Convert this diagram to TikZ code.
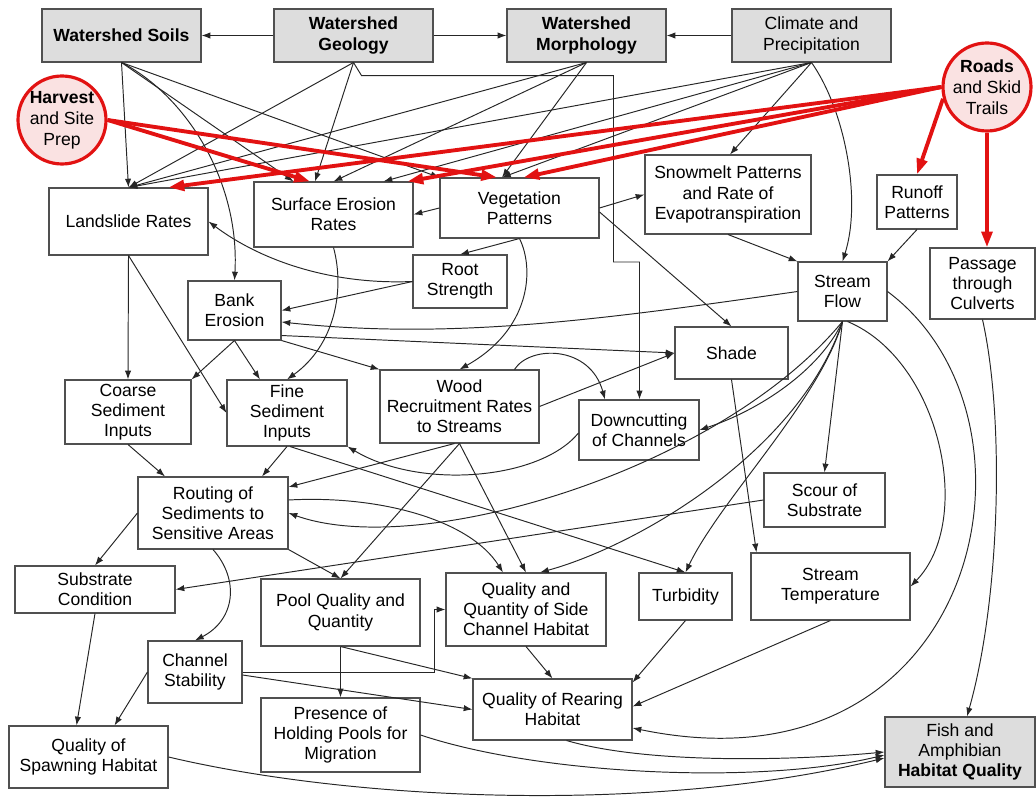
\documentclass[tikz,border=0pt]{standalone}
\usepackage{fontspec}
\setmainfont{Liberation Sans}
\usetikzlibrary{arrows.meta,calc}
\definecolor{roadred}{RGB}{226,18,18}
\definecolor{pinkfill}{RGB}{250,226,226}
\definecolor{topgray}{RGB}{221,221,221}
\definecolor{edgegray}{RGB}{80,80,80}

\begin{document}
\begin{tikzpicture}[x=0.02cm,y=-0.02cm] % one unit is one pixel of the sketch
\tikzset{sz/.style 2 args={minimum width=#1*0.02cm, minimum height=#2*0.02cm}}
\tikzset{box/.style={draw=edgegray, line width=0.6pt, fill=white, align=center, inner sep=1pt, font=\fontsize{10}{11.5}\selectfont}}
\tikzset{topbox/.style={box, fill=topgray, font=\fontsize{10}{11.5}\selectfont\bfseries}}
\tikzset{source/.style={circle, draw=roadred, line width=1.8pt, fill=pinkfill, align=center, inner sep=0pt, minimum size=88*0.02cm, font=\fontsize{10}{12}\selectfont}}
\tikzset{arr/.style={draw=black!85, line width=0.55pt, -{Latex[length=5pt,width=3.6pt]}}}
\tikzset{redarr/.style={draw=roadred, line width=2.2pt, -{Triangle[length=9pt,width=6pt]}}}
\useasboundingbox (0,0) rectangle (1036,803);

% drivers
\node[topbox, sz={159}{53}] (soils) at (121.5,35.5) {Watershed Soils};
\node[topbox, sz={159}{53}] (geology) at (353.5,35.5) {Watershed\\Geology};
\node[topbox, sz={159}{53}] (morph) at (586.5,35.5) {Watershed\\Morphology};
\node[box, fill=topgray, sz={159}{53}] (climate) at (811.5,35.5) {Climate and\\Precipitation};
\node[source] (harvest) at (62,120) {\textbf{Harvest}\\and Site\\Prep};
\node[source] (roads) at (987,87) {\textbf{Roads}\\and Skid\\Trails};

% processes
\node[box, sz={159}{67}] (land) at (128.5,221.5) {Landslide Rates};
\node[box, sz={159}{65}] (surf) at (333.5,214.5) {Surface Erosion\\Rates};
\node[box, sz={159}{60}] (veg) at (519.5,208) {Vegetation\\Patterns};
\node[box, sz={166}{79}] (snow) at (728,194.5) {Snowmelt Patterns\\and Rate of\\Evapotranspiration};
\node[box, sz={80}{54}] (runoff) at (917,202) {Runoff\\Patterns};
\node[box, sz={94}{53}] (root) at (460,281.5) {Root\\Strength};
\node[box, sz={93}{59}] (bank) at (234.5,310.5) {Bank\\Erosion};
\node[box, sz={89}{59}] (flow) at (842.5,291.5) {Stream\\Flow};
\node[box, sz={105}{71}] (passage) at (982.5,283.5) {Passage\\through\\Culverts};
\node[box, sz={113}{52}] (shade) at (731.5,353) {Shade};
\node[box, sz={126}{64}] (coarse) at (128,412) {Coarse\\Sediment\\Inputs};
\node[box, sz={120}{66}] (fine) at (287,413) {Fine\\Sediment\\Inputs};
\node[box, sz={159}{73}] (wood) at (459.5,406.5) {Wood\\Recruitment Rates\\to Streams};
\node[box, sz={120}{60}] (down) at (639,430) {Downcutting\\of Channels};
\node[box, sz={150}{72}] (routing) at (213,513) {Routing of\\Sediments to\\Sensitive Areas};
\node[box, sz={121}{54}] (scour) at (824.5,500) {Scour of\\Substrate};

% habitat
\node[box, sz={160}{47}] (substrate) at (95,589.5) {Substrate\\Condition};
\node[box, sz={159}{67}] (pool) at (340.5,612.5) {Pool Quality and\\Quantity};
\node[box, sz={160}{73}] (side) at (526,609.5) {Quality and\\Quantity of Side\\Channel Habitat};
\node[box, sz={93}{47}] (turb) at (685.5,596.5) {Turbidity};
\node[box, sz={159}{67}] (temp) at (830.5,586.5) {Stream\\Temperature};
\node[box, sz={94}{62}] (chan) at (195,672) {Channel\\Stability};
\node[box, sz={159}{61}] (rear) at (552.5,709.5) {Quality of Rearing\\Habitat};
\node[box, sz={159}{74}] (presence) at (340.5,735) {Presence of\\Holding Pools for\\Migration};
\node[box, sz={159}{62}] (spawn) at (88.5,757) {Quality of\\Spawning Habitat};
\node[box, fill=topgray, sz={150}{70}] (fish) at (960,752) {Fish and\\Amphibian\\\textbf{Habitat Quality}};

% top row
\draw[arr] (geology.west) -- (soils.east);
\draw[arr] (geology.east) -- (morph.west);
\draw[arr] (climate.west) -- (morph.east);

% fans from the drivers
\draw[arr] (soils.south) -- (land.north);
\draw[arr] (soils.south) -- ([xshift=-0.8cm]surf.north);
\draw[arr] (soils.south) -- (veg.north west);
\draw[arr] (soils.south) .. controls (185,95) and (240,180) .. (bank.north);
\draw[arr] (geology.south) -- (land.north);
\draw[arr] (geology.south) -- ([xshift=-0.37cm]surf.north);
\draw[arr] (geology.south) -- ++(8,13) -| (613.5,262) -| ([xshift=0.01cm]down.north);
\draw[arr] (morph.south) -- (land.north);
\draw[arr] (morph.south) -- (surf.north);
\draw[arr] (morph.south) -- ([xshift=-0.35cm]veg.north);
\draw[arr] (climate.south) -- (land.north);
\draw[arr] (climate.south) -- ([xshift=1cm]surf.north);
\draw[arr] (climate.south) -- ([xshift=-0.35cm]veg.north);
\draw[arr] (climate.south) -- ([xshift=0.04cm]snow.north);
\draw[arr] (climate.south) .. controls (845,110) and (862,200) .. (flow.north);

% upper processes
\draw[arr] (veg.west) -- (surf.east);
\draw[arr] (veg.east) -- (snow.west);
\draw[arr] (veg.south) -- (root.north);
\draw[arr] ([yshift=-0.08cm]veg.east) -- (shade.north);
\draw[arr] (veg.south) .. controls (535,270) and (530,330) .. (wood.north);
\draw[arr] (root.west) .. controls (330,285) and (260,260) .. (land.east);
\draw[arr] (root.west) -- (bank.east);
\draw[arr] (flow.west) .. controls (600,320) and (450,340) .. ([yshift=-0.23cm]bank.east);
\draw[arr] (snow.south) -- (flow.north west);
\draw[arr] (runoff.south) -- (flow.north east);
\draw[arr] (surf.south) .. controls (345,290) and (335,345) .. (fine.north);
\draw[arr] (land.south) -- (coarse.north);
\draw[arr] (land.south) -- (fine.west);
\draw[arr] (bank.south) -- (coarse.north east);
\draw[arr] (bank.south) -- ([xshift=-0.54cm]fine.north);
\draw[arr] (bank.south east) -- (wood.north west);
\draw[arr] ([yshift=0.1cm]bank.south east) -- (shade.west);
\draw[arr] (wood.east) -- (shade.west);
\draw[arr] ([xshift=1.1cm]wood.north) .. controls (530,345) and (590,345) .. ([xshift=-0.68cm]down.north);
\draw[arr] (shade.south) -- ([xshift=0.12cm]temp.north west);

% stream flow
\draw[arr] (flow.south) .. controls (820,370) and (760,410) .. (down.east);
\draw[arr] (flow.south) -- (scour.north);
\draw[arr] (flow.south) .. controls (820,400) and (720,500) .. (turb.north);
\draw[arr] (flow.south) .. controls (800,450) and (640,545) .. ([xshift=0.28cm]side.north);
\draw[arr] (flow.south) .. controls (720,470) and (420,560) .. (routing.east);
\draw[arr] ([xshift=0.1cm]flow.south) .. controls (940,360) and (975,520) .. (temp.east);
\draw[arr] (flow.east) .. controls (1060,420) and (980,800) .. ([yshift=-0.37cm]rear.east);
\draw[arr] (passage.south) .. controls (1005,420) and (1000,600) .. ([xshift=0.14cm]fish.north);

% sediments
\draw[arr] (coarse.south) -- ([xshift=-0.96cm]routing.north);
\draw[arr] (fine.south) -- ([xshift=0.98cm]routing.north);
\draw[arr] ([xshift=-0.1cm]wood.south) -- ([yshift=0.52cm]routing.east);
\draw[arr] ([yshift=-0.06cm]down.west) .. controls (540,480) and (420,490) .. (fine.south east);
\draw[arr] ([xshift=0.06cm]fine.south) -- (turb.north);
\draw[arr] (wood.south) -- (pool.north);
\draw[arr] (wood.south) -- (side.north);
\draw[arr] ([yshift=0.26cm]routing.east) .. controls (380,495) and (470,520) .. ([xshift=-0.46cm]side.north);
\draw[arr] (routing.south east) -- (pool.north);
\draw[arr] (routing.west) -- (substrate.north);
\draw[arr] (routing.south) .. controls (240,580) and (235,620) .. (chan.north);
\draw[arr] (scour.west) -- (substrate.east);

% habitat
\draw[arr] (substrate.south) -- ([xshift=-0.24cm]spawn.north);
\draw[arr] (chan.west) -- ([xshift=0.52cm]spawn.north);
\draw[arr] (chan.east) -- ++(191.5,0) |- (side.west);
\draw[arr] ([yshift=-0.06cm]chan.east) -- (rear.west);
\draw[arr] (pool.south) -- (presence.north);
\draw[arr] (pool.south) -- (rear.north west);
\draw[arr] (side.south) -- (rear.north);
\draw[arr] (turb.south) -- ([yshift=-0.08cm]rear.north east);
\draw[arr] (temp.south) -- ([yshift=0.06cm]rear.east);
\draw[arr] ([xshift=0.28cm]rear.south) .. controls (650,765) and (800,760) .. (fish.west);
\draw[arr] (presence.east) .. controls (540,775) and (760,785) .. ([yshift=-0.06cm]fish.west);
\draw[arr] (spawn.east) .. controls (350,800) and (650,815) .. ([yshift=-0.12cm]fish.west);

% management
\draw[redarr] (harvest.east) -- ([xshift=-0.47cm]surf.north);
\draw[redarr] (harvest.east) -- ([xshift=-0.45cm]veg.north);
\draw[redarr] (roads.west) -- ([xshift=0.8cm]land.north);
\draw[redarr] (roads.west) -- ([xshift=1.48cm]surf.north);
\draw[redarr] (roads.west) -- ([xshift=0.08cm]veg.north);
\draw[redarr] (roads.195) -- (runoff.north);
\draw[redarr] (roads.south) -- (roads.south |- passage.north);
\end{tikzpicture}
\end{document}
